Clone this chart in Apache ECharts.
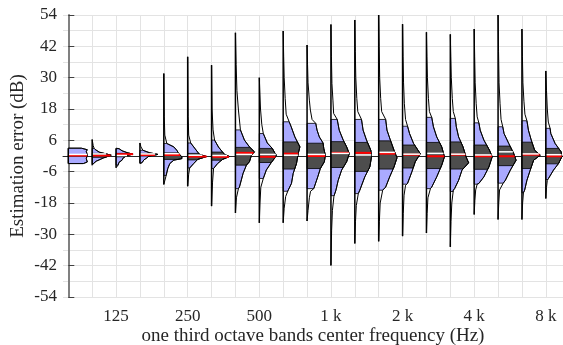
<!DOCTYPE html>
<html>
<head>
<meta charset="utf-8">
<script src="https://cdn.jsdelivr.net/npm/echarts@6/dist/echarts.min.js"></script>
<style>
  html, body { margin: 0; padding: 0; background: #fff; }
  #chart { width: 563px; height: 345px; }
</style>
</head>
<body>
<div id="chart"></div>
<script>
// one third octave bands, 80 Hz .. 8 kHz
const bands = ['80', '100', '125', '160', '200', '250', '315', '400', '500', '630', '800',
  '1k', '1.25k', '1.6k', '2k', '2.5k', '3.15k', '4k', '5k', '6.3k', '8k']
const labelIndex = [2, 5, 8, 11, 14, 17, 20]
const labelText = ['125', '250', '500', '1 k', '2 k', '4 k', '8 k']

// light blue part of each violin (dB)
const blueHi = [3.0, 2.9, 2.8, 2.2, 4.8, 5.0, 6.1, 10.0, 8.6, 13.1, 12.5, 14.0, 14.0, 14.0, 11.4, 14.8, 14.4, 12.7, 11.2, 13.5, 10.6]
const blueLo = [-2.9, -3.0, -3.5, -2.6, -7.5, -4.6, -4.8, -12.5, -8.6, -13.5, -12.5, -15.2, -14.4, -13.1, -10.8, -12.5, -13.6, -10.8, -10.4, -14.1, -9.0]
// dark grey part (quartiles)
const q3 = [0.5, 1.0, 1.0, 1.0, 1.2, 1.0, 1.5, 3.3, 2.9, 5.4, 4.9, 5.5, 5.2, 5.8, 4.2, 5.2, 5.4, 4.2, 3.8, 5.3, 2.9]
const q1 = [-0.1, -0.5, -0.3, 0.0, -1.3, -1.5, -1.6, -3.5, -2.5, -5.0, -4.8, -4.4, -5.9, -5.0, -4.6, -4.8, -5.0, -5.1, -3.7, -4.8, -3.0]
// red and white lines
const median = [0.2, 0.2, 0.7, 0.4, 0.4, -0.2, -0.3, 1.2, -0.3, 0.9, 0.0, 1.2, 1.2, 0.9, 0.5, -0.1, 0.5, -0.1, -0.1, 0.5, -0.1]
const mean = [0.6, 0.8, 0.2, 0.8, 0.9, 0.3, 0.2, 0.6, 0.6, 0.3, 0.6, 1.0, 0.4, 1.4, 0.7, 1.0, 0.7, 0.4, 1.6, 0.8, 0.5]

// density outline of each violin, [dB, density], from min to max
const outline = [
  [[-2.9, 0], [-2.9, 15], [-2.3, 19], [-1, 18], [0.4, 19], [1.8, 18], [2.4, 19], [3.0, 13], [3.0, 0]],
  [[-3.5, 0], [-3.0, 1], [-2.0, 4], [-0.8, 11], [0.3, 19], [0.9, 13], [1.5, 7], [2.5, 3], [2.9, 2], [4, 1], [6.3, 0]],
  [[-4.5, 0], [-3.5, 2], [-2.4, 3], [-1.6, 6], [-0.8, 7], [0.2, 11], [0.7, 17], [1.3, 11], [2.0, 6], [2.8, 3], [3.0, 0]],
  [[-2.9, 0], [-2.6, 2], [-1.5, 4], [-0.7, 7], [0.0, 9], [0.6, 18], [1.2, 10], [1.9, 5], [2.2, 3], [3.5, 1], [5.0, 0]],
  [[-10.9, 0], [-8, 2], [-4.8, 4], [-2.9, 6], [-1.6, 10], [-1.0, 18], [-0.3, 18], [0.9, 15], [2.2, 13], [3.5, 10], [4.8, 3], [8, 1], [15, 0.5], [31.6, 0]],
  [[-11.6, 0], [-7, 1], [-4.6, 2], [-2.9, 6], [-1.3, 10], [-0.2, 19], [0.6, 12], [1.5, 10], [3.0, 7], [5.0, 3], [8, 1], [15, 0.5], [38, 0]],
  [[-19.2, 0], [-10, 1], [-4.8, 2], [-2.9, 6], [-1.3, 11], [-0.2, 18], [0.6, 13], [1.5, 11], [3.4, 7], [6.1, 3], [10, 1.5], [18, 0.5], [34.8, 0]],
  [[-21.8, 0], [-16, 1], [-12.5, 3], [-11.9, 4], [-6.6, 7.7], [-3.5, 11], [-2.2, 14], [0.3, 16], [1.6, 19], [3.5, 14], [6.1, 9], [10, 5], [17.6, 3], [25, 1.5], [35, 0.7], [47.2, 0]],
  [[-25.6, 0], [-18, 0.7], [-12, 1.5], [-8.6, 4], [-5.4, 7], [-2.5, 12], [-1, 15], [0.3, 17], [1.5, 15], [2.9, 13], [5, 8], [8.6, 4], [12, 2.5], [18, 1.2], [30, 0]],
  [[-25.6, 0], [-20, 1], [-15.5, 2.5], [-13.1, 5], [-10.5, 8.3], [-6.7, 10], [-2.9, 13.3], [0.9, 15], [3.5, 16.7], [7.3, 11.7], [11.2, 8], [13.1, 6], [16, 3], [22, 2], [30, 1], [38, 0.5], [47.9, 0]],
  [[-24.9, 0], [-20.8, 1], [-16, 2.3], [-13.5, 3.5], [-12.5, 6.7], [-8, 10.7], [-4.8, 13.3], [-2.2, 17.3], [0.3, 18.3], [2.9, 16.7], [5, 16], [7.3, 12.3], [9.9, 10], [12.5, 8.7], [14, 5], [17.6, 3.3], [21.4, 2.3], [28, 1], [35, 0.5], [42.5, 0]],
  [[-41.9, 0], [-28.4, 0.7], [-20.8, 1.5], [-15.4, 3], [-13.1, 5], [-9.3, 7.3], [-5.4, 10.7], [-2.2, 15.7], [0.9, 18.3], [3.5, 15.7], [6.1, 12.3], [9.9, 8.3], [14, 6.3], [16.3, 2.7], [21.4, 2], [27.8, 1], [38, 0.5], [50.4, 0]],
  [[-33.5, 0], [-25, 0.7], [-19, 1.5], [-14.4, 3.5], [-13.1, 5], [-8, 10], [-4.2, 15], [-0.3, 16.7], [2.2, 16], [6.1, 11.7], [9.9, 8.3], [14, 6.7], [17, 3], [22, 2], [30, 1], [40, 0.5], [52.1, 0]],
  [[-32.7, 0], [-25, 0.7], [-18, 1.5], [-13.1, 4], [-11.9, 7], [-8, 11], [-4.2, 15.3], [-0.7, 18.3], [2.2, 15.3], [6.1, 11.7], [9.9, 8.3], [14, 7], [17, 3], [22, 2], [30, 1], [42, 0.5], [54, 0]],
  [[-30.7, 0], [-22, 0.7], [-15, 1.5], [-11.2, 3], [-10.5, 5], [-6.1, 9.3], [-2.2, 12.7], [0.9, 17.7], [4.8, 11], [8.6, 7], [11.4, 5], [14, 3], [20, 1.8], [28, 1], [38, 0.5], [50.5, 0]],
  [[-29.5, 0], [-22, 0.7], [-16, 1.5], [-12.5, 4], [-11.9, 5.3], [-8, 10.3], [-3.5, 15.3], [-0.3, 18], [3.5, 15.3], [7.3, 10.3], [11.2, 7], [14.8, 5.3], [17, 3], [22, 2], [30, 1], [38, 0.5], [47.4, 0]],
  [[-34.8, 0], [-25, 0.7], [-18, 1.5], [-13.1, 3], [-12.5, 4.3], [-9.3, 8.3], [-5.4, 11.7], [-2.6, 18.3], [-0.3, 15.7], [3.5, 12.7], [7.3, 8.3], [11.2, 6], [14.4, 5], [17, 3], [22, 2], [30, 1], [38, 0.5], [46.6, 0]],
  [[-22.4, 0], [-17, 0.7], [-13, 1.5], [-10.8, 3], [-10.5, 4.7], [-8, 9.7], [-4.2, 14.7], [-0.3, 18], [2.2, 15.3], [6.1, 9.7], [9.9, 6], [12.7, 4.7], [15, 3], [20, 2], [28, 1], [38, 0.5], [48.6, 0]],
  [[-24.3, 0], [-18, 0.7], [-13, 1.5], [-10.5, 5], [-9.3, 7.3], [-5.4, 12.3], [-1.6, 18], [0.9, 15.7], [4.8, 10.7], [8.6, 6], [11.2, 4.7], [14, 3], [20, 2], [28, 1], [40, 0.5], [54, 0]],
  [[-24.3, 0], [-18, 0.7], [-14.1, 1.5], [-13.1, 2.7], [-9.3, 5], [-5.4, 8.3], [-1.6, 11.7], [0.3, 18.3], [2.2, 12.7], [6.1, 9.3], [9.9, 6.5], [13.5, 5], [16, 3], [21, 2], [28, 1], [38, 0.5], [48.6, 0]],
  [[-16.3, 0], [-12, 0.7], [-9.3, 1.5], [-8.6, 2.7], [-5.4, 7.7], [-2.9, 12.7], [-0.3, 16], [1.6, 15.3], [4.8, 9.3], [8.6, 5], [10.6, 4.3], [13, 2.5], [18, 1.5], [25, 0.7], [32.6, 0]]
]

const densPerBand = 23.87
const serif = 'Liberation Serif'

function widthAt (pts, v) {
  for (let k = 0; k < pts.length - 1; k++) {
    const a = pts[k]
    const b = pts[k + 1]
    if (v >= a[0] && v <= b[0]) {
      if (b[0] === a[0]) return Math.max(a[1], b[1])
      return a[1] + (b[1] - a[1]) * (v - a[0]) / (b[0] - a[0])
    }
  }
  return 0
}

// part of the violin between lo and hi, closed on the base line
function slice (pts, lo, hi) {
  const out = [[lo, 0], [lo, widthAt(pts, lo)]]
  pts.forEach(p => { if (p[0] > lo && p[0] < hi) out.push(p) })
  out.push([hi, widthAt(pts, hi)], [hi, 0])
  return out
}

function renderViolin (params, api) {
  const i = params.dataIndex
  const pts = outline[i]
  const pt = (v, d) => api.coord([i + d / densPerBand, v])
  const poly = list => list.map(p => pt(p[0], p[1]))
  const hline = (v, color, w) => {
    const a = pt(v, 0)
    const b = pt(v, widthAt(pts, v))
    return { type: 'line', shape: { x1: a[0], y1: a[1], x2: b[0], y2: b[1] }, style: { stroke: color, lineWidth: w } }
  }
  const top = pt(pts[pts.length - 1][0], 0)
  const bot = pt(pts[0][0], 0)
  return {
    type: 'group',
    children: [
      { type: 'polygon', shape: { points: poly(slice(pts, blueLo[i], blueHi[i])) }, style: { fill: '#aaaaff', stroke: '#000', lineWidth: 0.8 } },
      { type: 'polygon', shape: { points: poly(slice(pts, q1[i], q3[i])) }, style: { fill: '#4d4d4d', stroke: '#000', lineWidth: 0.8 } },
      { type: 'polyline', shape: { points: poly(pts) }, style: { fill: null, stroke: '#000', lineWidth: 1 } },
      hline(median[i], '#ff0000', 2),
      hline(mean[i], '#ffffff', 1.5),
      { type: 'line', shape: { x1: top[0], y1: top[1], x2: bot[0], y2: bot[1] }, style: { stroke: '#000', lineWidth: 1.5 } }
    ]
  }
}

const chart = echarts.init(document.getElementById('chart'))
chart.setOption({
  animation: false,
  grid: { left: 63, right: 0, top: 15, bottom: 48, outerBoundsMode: 'none' },
  xAxis: {
    type: 'value',
    min: -0.222,
    max: 20.72,
    name: 'one third octave bands center frequency (Hz)',
    nameLocation: 'middle',
    nameGap: 30,
    nameMoveOverlap: false,
    nameTextStyle: { fontFamily: serif, fontSize: 19, color: '#262626' },
    axisLine: { show: true, lineStyle: { color: '#262626', width: 1 } },
    axisTick: { show: true, inside: true, length: 5, customValues: bands.map((b, i) => i), lineStyle: { color: '#262626' } },
    axisLabel: {
      customValues: labelIndex,
      formatter: v => labelText[labelIndex.indexOf(Math.round(v))] || '',
      fontFamily: serif,
      fontSize: 17,
      color: '#262626',
      margin: 11
    },
    splitLine: { show: true, lineStyle: { color: '#e3e3e3', width: 1 } }
  },
  yAxis: {
    type: 'value',
    min: -54,
    max: 54,
    interval: 12,
    name: 'Estimation error (dB)',
    nameLocation: 'middle',
    nameGap: 35,
    nameMoveOverlap: false,
    nameTextStyle: { fontFamily: serif, fontSize: 19, color: '#262626' },
    axisLine: { show: true, lineStyle: { color: '#808080', width: 2 } },
    axisTick: { show: true, inside: true, length: 6, lineStyle: { color: '#404040' } },
    axisLabel: { fontFamily: serif, fontSize: 17, color: '#262626', margin: 6 },
    splitLine: { show: true, lineStyle: { color: '#e3e3e3', width: 1 } },
    minorTick: { show: false, splitNumber: 2 },
    minorSplitLine: { show: true, lineStyle: { color: '#e3e3e3', width: 1 } }
  },
  series: [{
    type: 'custom',
    renderItem: renderViolin,
    data: bands.map((b, i) => [i, 0]),
    encode: { x: 0, y: 1 },
    clip: false,
    silent: true
  }]
})
</script>
</body>
</html>
